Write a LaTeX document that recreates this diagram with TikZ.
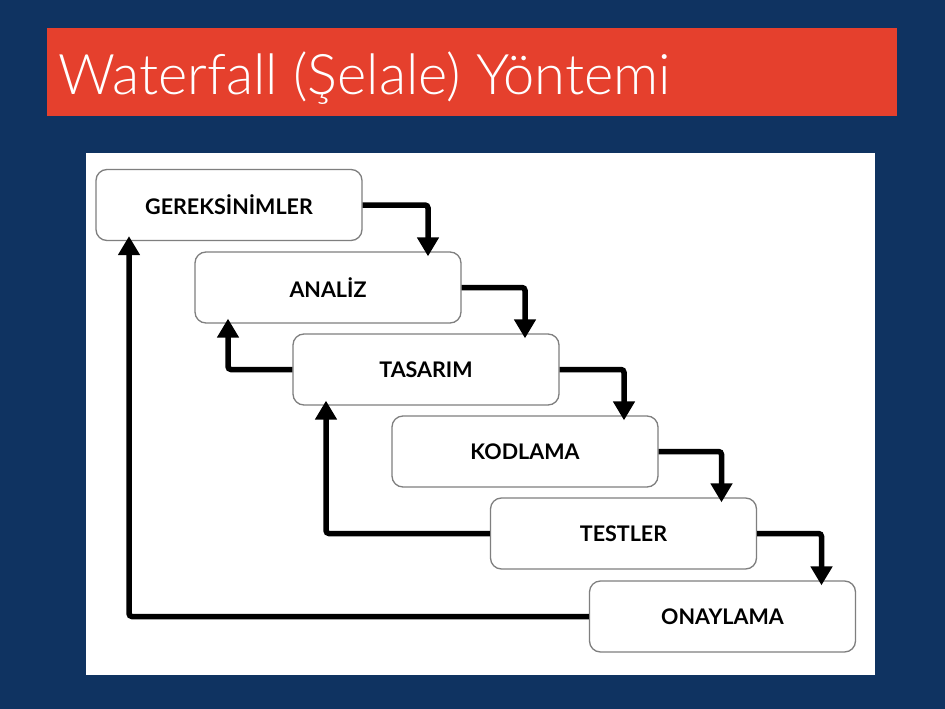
\documentclass[tikz,border=0pt]{standalone}
\usepackage{fontspec}
\setmainfont{Lato}
\newfontfamily\titlefont{Lato Light}
\usetikzlibrary{arrows.meta}
\definecolor{navy}{HTML}{0F3361}
\definecolor{banner}{HTML}{E5402D}
\definecolor{boxline}{HTML}{7F7F7F}
\tikzset{
  stage/.style={draw=boxline, line width=1.3pt, rounded corners=11pt, fill=white,
    minimum width=266pt, minimum height=71pt, inner sep=0pt,
    font=\fontsize{21.5}{23}\selectfont\bfseries, text=black},
  flow/.style={line width=5.5pt, rounded corners=3pt, -{Triangle[width=21pt,length=19pt]}}
}
\begin{document}
\begin{tikzpicture}[x=1pt,y=-1pt]
  % page, banner and panel
  \fill[navy] (0,0) rectangle (945,709);
  \useasboundingbox (0,0) rectangle (945,709);
  \fill[banner] (47,28) rectangle (897,116);
  \node[anchor=base west, text=white, inner sep=0pt,
        font=\titlefont\fontsize{56}{60}\selectfont] (title) at (58,95) {Waterfall (Şelale) Yöntemi};
  \fill[white] (86,153) rectangle (875,675);

  % stages
  \node[stage] (s1) at (229,205) {\raisebox{-2pt}{GEREKSİNİMLER}};
  \node[stage] (s2) at (328,287.5) {\raisebox{-2pt}{ANALİZ}};
  \node[stage] (s3) at (426,369.5) {\raisebox{-2pt}{TASARIM}};
  \node[stage] (s4) at (525,451.5) {\raisebox{-2pt}{KODLAMA}};
  \node[stage] (s5) at (623.5,533.5) {\raisebox{-2pt}{TESTLER}};
  \node[stage] (s6) at (722.5,616.5) {\raisebox{-2pt}{ONAYLAMA}};

  % forward flow
  \draw[flow] (s1.east) -| ([xshift=100pt,yshift=-5pt]s2.north);
  \draw[flow] (s2.east) -| ([xshift=99pt,yshift=-5pt]s3.north);
  \draw[flow] (s3.east) -| ([xshift=99pt,yshift=-5pt]s4.north);
  \draw[flow] (s4.east) -| ([xshift=98pt,yshift=-5pt]s5.north);
  \draw[flow] (s5.east) -| ([xshift=99pt,yshift=-5pt]s6.north);

  % feedback loops
  \draw[flow] (s3.west) -| ([xshift=-100pt,yshift=5pt]s2.south);
  \draw[flow] (s5.west) -| ([xshift=-100pt,yshift=5pt]s3.south);
  \draw[flow] (s6.west) -| ([xshift=-100pt,yshift=5pt]s1.south);
\end{tikzpicture}
\end{document}
